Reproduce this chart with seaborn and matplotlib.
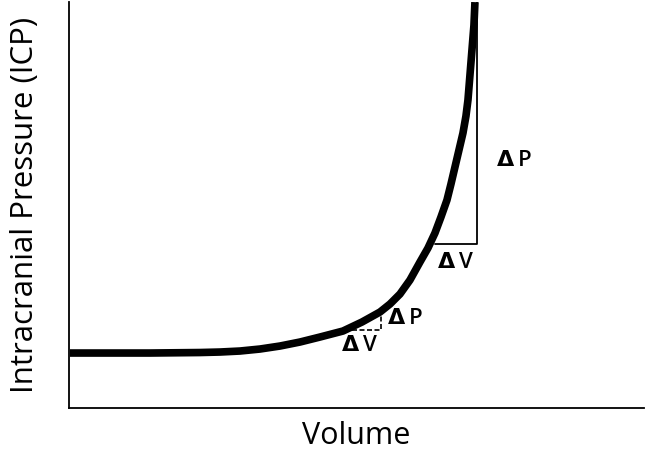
import matplotlib
matplotlib.use("Agg")
import matplotlib.pyplot as plt
import seaborn as sns
import pandas as pd

# pressure-volume curve, arbitrary units
volume = [1, 81, 131, 151, 171, 191, 211, 231, 251, 274, 293, 311, 321, 331,
          341, 351, 359, 366, 372, 378, 382, 386, 390, 394, 397, 399, 401,
          403, 405, 406]
pressure = [55, 55, 55.5, 56, 57, 59, 62, 66, 71, 77, 86, 96, 104, 114,
            128, 146, 160, 175, 191, 208, 224, 241, 258, 275, 292, 308, 333,
            358, 383, 406]

# small (dashed) and large (solid) delta triangles
small_tri_v = [283, 312, 312]
small_tri_p = [78, 78, 96]
big_tri_v = [366, 408, 408]
big_tri_p = [164, 164, 406]

# delta labels: (volume, pressure, letter)
delta_labels = [
    (428, 248, "P"),
    (369, 146, "V"),
    (319, 90, "P"),
    (273, 63, "V"),
]

sns.set_theme(style="white")
plt.rcParams["font.family"] = ["Open Sans", "DejaVu Sans"]
plt.rcParams["text.color"] = "black"
plt.rcParams["axes.labelcolor"] = "black"

fig = plt.figure(figsize=(6.46, 4.54), dpi=100)
ax = fig.add_axes([0.1068, 0.1013, 0.890, 0.894])

df = pd.DataFrame({"Volume": volume, "ICP": pressure})
sns.lineplot(data=df, x="Volume", y="ICP", ax=ax, color="black",
             linewidth=5.5, sort=False, solid_capstyle="butt")

ax.plot(small_tri_v, small_tri_p, color="black", linewidth=1.2, linestyle=(0, (3, 1.5)))
ax.plot(big_tri_v, big_tri_p, color="black", linewidth=1.3)

for v, p, letter in delta_labels:
    ax.text(v, p, "Δ", fontsize=16, fontweight="bold", ha="left", va="center",
            family=["DejaVu Sans"])
    ax.annotate(letter, (v, p), xytext=(15, 0), textcoords="offset points",
                fontsize=16, fontweight="semibold", ha="left", va="center")

ax.set_xlim(0, 575)
ax.set_ylim(0, 406)
ax.set_xticks([])
ax.set_yticks([])
ax.set_xlabel("Volume", fontsize=22, labelpad=9)
ax.set_ylabel("Intracranial Pressure (ICP)", fontsize=22.5, labelpad=21)
for side in ["top", "right"]:
    ax.spines[side].set_visible(False)
for side in ["left", "bottom"]:
    ax.spines[side].set_color("black")
    ax.spines[side].set_linewidth(1.3)

fig.savefig("out.png", dpi=100)
